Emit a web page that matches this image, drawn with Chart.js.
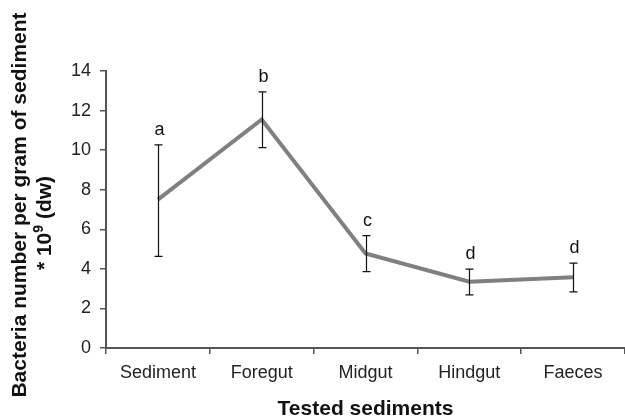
<!DOCTYPE html>
<html>
<head>
<meta charset="utf-8">
<script src="https://cdn.jsdelivr.net/npm/chart.js@4"></script>
<style>
  html, body { margin: 0; padding: 0; background: #fff; }
  #wrap { width: 625px; height: 419px; }
</style>
</head>
<body>
<div id="wrap"><canvas id="chart-line-bakteri" width="625" height="419"></canvas></div>
<script>
// data
var kategori = ["Sediment", "Foregut", "Midgut", "Hindgut", "Faeces"];
var rata = [7.5, 11.55, 4.78, 3.35, 3.57];
var errAtas = [10.27, 12.95, 5.68, 3.99, 4.29];
var errBawah = [4.63, 10.13, 3.86, 2.68, 2.84];
var huruf = ["a", "b", "c", "d", "d"];
var yTicks = [0, 2, 4, 6, 8, 10, 12, 14];
var judulY1 = "Bacteria number per gram of sediment";
var judulY2 = ["* 10", "9", " (dw)"]; // middle part is the superscript
var judulX = "Tested sediments";

var fontName = "'Liberation Sans', Arial, sans-serif";

// error bars + letters
var errorBarPlugin = {
  id: "errorBars",
  afterDatasetsDraw: function (chart) {
    var ctx = chart.ctx;
    var x = chart.scales.x, y = chart.scales.y;
    ctx.save();
    ctx.strokeStyle = "#111";
    ctx.lineWidth = 1.2;
    for (var i = 0; i < kategori.length; i++) {
      var px = Math.round(x.getPixelForValue(i)) + 0.5;
      var top = y.getPixelForValue(errAtas[i]);
      var bot = y.getPixelForValue(errBawah[i]);
      ctx.beginPath();
      ctx.moveTo(px, top); ctx.lineTo(px, bot);
      ctx.moveTo(px - 4, top); ctx.lineTo(px + 4, top);
      ctx.moveTo(px - 4, bot); ctx.lineTo(px + 4, bot);
      ctx.stroke();

      ctx.fillStyle = "#111";
      ctx.font = "18px " + fontName;
      ctx.textAlign = "center";
      ctx.textBaseline = "alphabetic";
      ctx.fillText(huruf[i], px + 1, top - 10);
    }
    ctx.restore();
  }
};

// axis titles, drawn by hand so the two y lines and the superscript sit right
var axisTitlePlugin = {
  id: "axisTitles",
  afterDraw: function (chart) {
    var ctx = chart.ctx;
    var area = chart.chartArea;
    ctx.save();
    ctx.fillStyle = "#111";
    ctx.textBaseline = "alphabetic";

    // x title
    ctx.font = "bold 21px " + fontName;
    ctx.textAlign = "center";
    ctx.fillText(judulX, (area.left + area.right) / 2, 415);

    // y title, rotated
    ctx.translate(0, 0);
    ctx.save();
    ctx.translate(26, 205);
    ctx.rotate(-Math.PI / 2);
    ctx.font = "bold 21px " + fontName;
    ctx.textAlign = "center";
    ctx.fillText(judulY1, 0, 0);
    ctx.restore();

    ctx.save();
    ctx.translate(51, 223);
    ctx.rotate(-Math.PI / 2);
    var fBig = "bold 21px " + fontName, fSmall = "bold 14px " + fontName;
    ctx.font = fBig; var w0 = ctx.measureText(judulY2[0]).width, w2 = ctx.measureText(judulY2[2]).width;
    ctx.font = fSmall; var w1 = ctx.measureText(judulY2[1]).width;
    var sx = -(w0 + w1 + w2) / 2;
    ctx.textAlign = "left";
    ctx.font = fBig; ctx.fillText(judulY2[0], sx, 0);
    ctx.font = fSmall; ctx.fillText(judulY2[1], sx + w0, -8);
    ctx.font = fBig; ctx.fillText(judulY2[2], sx + w0 + w1, 0);
    ctx.restore();

    ctx.restore();
  }
};

var ctx = document.getElementById("chart-line-bakteri").getContext("2d");
var chart = new Chart(ctx, {
  type: "line",
  data: {
    labels: kategori,
    datasets: [{
      data: rata,
      borderColor: "#808080",
      borderWidth: 4,
      pointRadius: 0,
      tension: 0,
      fill: false
    }]
  },
  options: {
    responsive: false,
    animation: false,
    layout: { padding: { top: 71, right: 0, bottom: 0, left: 0 } },
    plugins: {
      legend: { display: false },
      tooltip: { enabled: false }
    },
    scales: {
      x: {
        type: "category",
        offset: true,
        grid: { offset: true, drawOnChartArea: false, drawTicks: true, tickLength: 6, color: "#555", lineWidth: 1.5 },
        border: { display: true, color: "#555", width: 2 },
        ticks: { color: "#222", font: { size: 18, family: fontName }, padding: 8 },
        afterFit: function (s) { s.height = 71; }
      },
      y: {
        min: 0,
        max: 14,
        afterBuildTicks: function (s) { s.ticks = yTicks.map(function (v) { return { value: v }; }); },
        grid: { drawOnChartArea: false, drawTicks: true, tickLength: 6, color: "#555", lineWidth: 1.5 },
        border: { display: true, color: "#555", width: 2 },
        ticks: { color: "#222", font: { size: 18, family: fontName }, padding: 9 },
        afterFit: function (s) { s.width = 106; }
      }
    }
  },
  plugins: [errorBarPlugin, axisTitlePlugin]
});
</script>
</body>
</html>
